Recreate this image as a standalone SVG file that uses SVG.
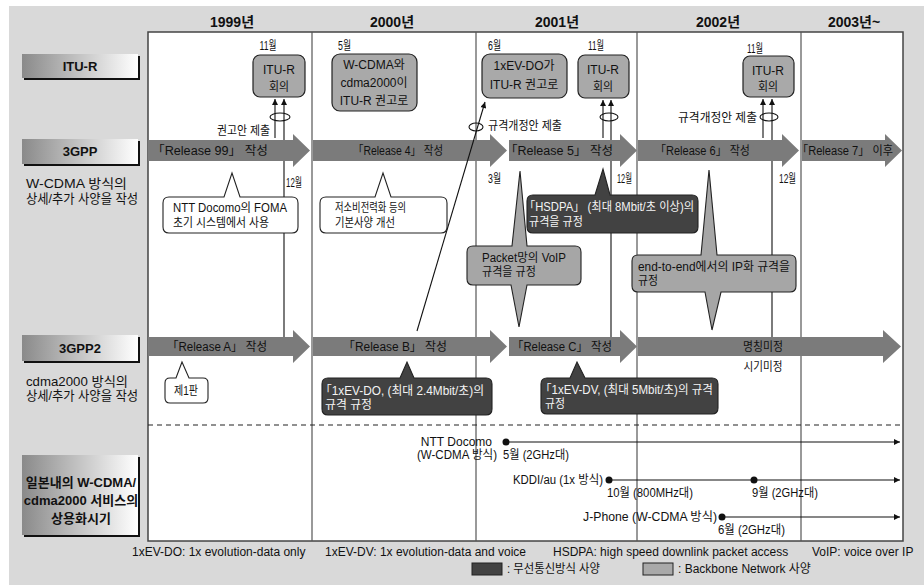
<svg xmlns="http://www.w3.org/2000/svg" width="924" height="585" viewBox="0 0 924 585">
<style>
text{font-family:"Liberation Sans","Noto Sans CJK KR",sans-serif;font-size:12px;fill:#111}
.yr{font-size:14px;font-weight:bold}
.lb{font-size:13px;font-weight:bold}
.rw{font-size:13px}
.w{fill:#f4f4f4}
.m{text-anchor:middle}
.e{text-anchor:end}
.arr{fill:#7b7b7b}
.box{fill:#a9a9a9;stroke:#222;stroke-width:1.2}
.cw{fill:#fff;stroke:#222;stroke-width:1.1}
.cd{fill:#424242;stroke:#222;stroke-width:1.1}
.cg{fill:#a6a6a6;stroke:#222;stroke-width:1.1}
.ln{stroke:#111;stroke-width:1.1;fill:none}
.yl{stroke:#555;stroke-width:1.2}
.sh{fill:#111}
.lbx{fill:url(#g)}
</style>
<defs>
<linearGradient id="g" x1="0" y1="0" x2="1" y2="0">
<stop offset="0" stop-color="#8a8a8a"/>
<stop offset="1" stop-color="#ffffff"/>
</linearGradient>
<marker id="ah" viewBox="0 0 10 10" refX="10" refY="5" markerWidth="8" markerHeight="6" markerUnits="userSpaceOnUse" orient="auto">
<path d="M0,0 L10,5 L0,10 z" fill="#111"/>
</marker>
</defs>
<rect x="9" y="6" width="915" height="579" fill="#d9d9d9"/>
<rect x="148" y="32" width="755" height="509" fill="#fff" stroke="#444" stroke-width="1.5"/>
<g id="grid">
<line class="yl" x1="312" y1="32" x2="312" y2="541"/>
<line class="yl" x1="476" y1="32" x2="476" y2="541"/>
<line class="yl" x1="637" y1="32" x2="637" y2="541"/>
<line class="yl" x1="801" y1="32" x2="801" y2="541"/>
<line x1="148" y1="425" x2="903" y2="425" stroke="#222" stroke-width="1.1" stroke-dasharray="5 4"/>
</g>
<g id="years">
<text class="yr m" x="232" y="27">1999년</text>
<text class="yr m" x="392" y="27">2000년</text>
<text class="yr m" x="557" y="27">2001년</text>
<text class="yr m" x="718" y="27">2002년</text>
<text class="yr m" x="854" y="27">2003년~</text>
</g>
<g id="row-itur">
<rect class="sh" x="24" y="56" width="116" height="24"/>
<rect class="lbx" x="22" y="54" width="116" height="24"/>
<text class="lb m" x="80" y="71">ITU-R</text>
</g>
<g id="row-3gpp">
<rect class="sh" x="24" y="141" width="116" height="25"/>
<rect class="lbx" x="22" y="139" width="116" height="25"/>
<text class="lb m" x="80" y="156">3GPP</text>
<text class="rw" x="26" y="188" textLength="101" lengthAdjust="spacingAndGlyphs">W-CDMA 방식의</text>
<text class="rw" x="26" y="203" textLength="112" lengthAdjust="spacingAndGlyphs">상세/추가 사양을 작성</text>
</g>
<g id="row-3gpp2">
<rect class="sh" x="24" y="337" width="116" height="26"/>
<rect class="lbx" x="22" y="335" width="116" height="26"/>
<text class="lb m" x="80" y="353">3GPP2</text>
<text class="rw" x="26" y="386" textLength="102" lengthAdjust="spacingAndGlyphs">cdma2000 방식의</text>
<text class="rw" x="26" y="400" textLength="112" lengthAdjust="spacingAndGlyphs">상세/추가 사양을 작성</text>
</g>
<g id="row-japan">
<rect class="sh" x="24" y="457" width="116" height="80"/>
<rect class="lbx" x="22" y="455" width="116" height="80"/>
<text class="lb m" x="81" y="487">일본내의 W-CDMA/</text>
<text class="lb m" x="81" y="505">cdma2000 서비스의</text>
<text class="lb m" x="81" y="523">상용화시기</text>
</g>
<g id="gpp-arrows">
<g id="r99"><polygon class="arr" points="148,140 293,140 293,134 310,150.5 293,167 293,161 148,161"/><text x="152" y="155" textLength="116" lengthAdjust="spacingAndGlyphs">「Release 99」 작성</text></g>
<g id="r4"><polygon class="arr" points="313,140 490,140 490,134 507,150.5 490,167 490,161 313,161"/><text x="353" y="155" textLength="90" lengthAdjust="spacingAndGlyphs">「Release 4」 작성</text></g>
<g id="r5"><polygon class="arr" points="509,140 620,140 620,134 637,150.5 620,167 620,161 509,161"/><text x="505" y="155" textLength="108" lengthAdjust="spacingAndGlyphs">「Release 5」 작성</text></g>
<g id="r6"><polygon class="arr" points="638,140 782,140 782,134 799,150.5 782,167 782,161 638,161"/><text x="655" y="155" textLength="95" lengthAdjust="spacingAndGlyphs">「Release 6」 작성</text></g>
<g id="r7"><polygon class="arr" points="802,140 885,140 885,134 902,150.5 885,167 885,161 802,161"/><text x="797" y="155" textLength="96" lengthAdjust="spacingAndGlyphs">「Release 7」 이후</text></g>
</g>
<g id="gpp2-arrows">
<g id="ra"><polygon class="arr" points="148,337 293,337 293,330 310,346.5 293,363 293,356 148,356"/><text x="167" y="351" textLength="100" lengthAdjust="spacingAndGlyphs">「Release A」 작성</text></g>
<g id="rb"><polygon class="arr" points="313,337 490,337 490,330 507,346.5 490,363 490,356 313,356"/><text x="343" y="351" textLength="104" lengthAdjust="spacingAndGlyphs">「Release B」 작성</text></g>
<g id="rc"><polygon class="arr" points="509,337 620,337 620,330 637,346.5 620,363 620,356 509,356"/><text x="512" y="351" textLength="100" lengthAdjust="spacingAndGlyphs">「Release C」 작성</text></g>
<g id="rtbd"><polygon class="arr" points="638,337 883,337 883,330 901,346.5 883,363 883,356 638,356"/><text class="m" x="763" y="351" textLength="40" lengthAdjust="spacingAndGlyphs">명칭미정</text></g>
<text class="m" x="763" y="371" textLength="39" lengthAdjust="spacingAndGlyphs">시기미정</text>
</g>
<g id="itu-1999">
<text class="m" x="268" y="50" textLength="17" lengthAdjust="spacingAndGlyphs">11월</text>
<rect class="box" x="253" y="55" width="52" height="42" rx="7"/>
<text class="m" x="279" y="74">ITU-R</text>
<text class="m" x="279" y="91" textLength="20" lengthAdjust="spacingAndGlyphs">회의</text>
</g>
<g id="itu-2000">
<text x="338" y="50" textLength="13" lengthAdjust="spacingAndGlyphs">5월</text>
<rect class="box" x="332" y="54" width="85" height="57" rx="8"/>
<text class="m" x="374" y="69">W-CDMA와</text>
<text class="m" x="374" y="87">cdma2000이</text>
<text class="m" x="374" y="105">ITU-R 권고로</text>
</g>
<g id="itu-2001a">
<text x="488" y="50" textLength="13" lengthAdjust="spacingAndGlyphs">6월</text>
<rect class="box" x="482" y="54" width="85" height="44" rx="8"/>
<text class="m" x="524" y="70">1xEV-DO가</text>
<text class="m" x="524" y="89">ITU-R 권고로</text>
</g>
<g id="itu-2001b">
<text x="588" y="50" textLength="16" lengthAdjust="spacingAndGlyphs">11월</text>
<rect class="box" x="578" y="55" width="51" height="43" rx="7"/>
<text class="m" x="603" y="74">ITU-R</text>
<text class="m" x="603" y="91" textLength="20" lengthAdjust="spacingAndGlyphs">회의</text>
</g>
<g id="itu-2002">
<text x="747" y="53" textLength="16" lengthAdjust="spacingAndGlyphs">11월</text>
<rect class="box" x="743" y="56" width="51" height="41" rx="7"/>
<text class="m" x="768" y="75">ITU-R</text>
<text class="m" x="768" y="91" textLength="20" lengthAdjust="spacingAndGlyphs">회의</text>
</g>
<g id="connectors">
<ellipse class="ln" cx="280" cy="117" rx="10" ry="4"/>
<ellipse class="ln" cx="609" cy="117" rx="9" ry="4"/>
<ellipse class="ln" cx="769" cy="117" rx="9" ry="4"/>
<ellipse class="ln" cx="476" cy="127" rx="7" ry="4"/>
<path class="ln" d="M275,138 L275,99" marker-end="url(#ah)"/>
<path class="ln" d="M284,337 L284,161 M284,140 L284,99" marker-end="url(#ah)"/>
<path class="ln" d="M603,138 L603,100" marker-end="url(#ah)"/>
<path class="ln" d="M611,337 L611,161 M611,140 L611,100" marker-end="url(#ah)"/>
<path class="ln" d="M763,138 L763,99" marker-end="url(#ah)"/>
<path class="ln" d="M772,337 L772,161 M772,140 L772,99" marker-end="url(#ah)"/>
<path class="ln" d="M417,331 L485,102" marker-end="url(#ah)"/>
<path class="ln" d="M506,442 L900,442" marker-end="url(#ah)"/>
<path class="ln" d="M609,480 L900,480" marker-end="url(#ah)"/>
<path class="ln" d="M722,517 L900,517" marker-end="url(#ah)"/>
<circle cx="506" cy="442" r="3.5" fill="#111"/>
<circle cx="609" cy="480" r="3.5" fill="#111"/>
<circle cx="754" cy="480" r="3.5" fill="#111"/>
<circle cx="722" cy="517" r="3.5" fill="#111"/>
</g>
<g id="conn-labels">
<text class="e" x="270" y="135" textLength="53" lengthAdjust="spacingAndGlyphs">권고안 제출</text>
<text x="488" y="130" textLength="74" lengthAdjust="spacingAndGlyphs">규격개정안 제출</text>
<text x="678" y="122" textLength="79" lengthAdjust="spacingAndGlyphs">규격개정안 제출</text>
<text x="286" y="187" textLength="16" lengthAdjust="spacingAndGlyphs">12월</text>
<text x="488" y="183" textLength="13" lengthAdjust="spacingAndGlyphs">3월</text>
<text x="617" y="183" textLength="15" lengthAdjust="spacingAndGlyphs">12월</text>
<text x="779" y="183" textLength="17" lengthAdjust="spacingAndGlyphs">12월</text>
</g>
<g id="callout-foma">
<path class="cw" d="M169,197 L224,197 L232,173 L240,197 L292,197 Q298,197 298,203 L298,227 Q298,233 292,233 L169,233 Q163,233 163,227 L163,203 Q163,197 169,197 Z"/>
<text x="173" y="212" textLength="114" lengthAdjust="spacingAndGlyphs">NTT Docomo의 FOMA</text>
<text x="173" y="227" textLength="96" lengthAdjust="spacingAndGlyphs">초기 시스템에서 사용</text>
</g>
<g id="callout-r4">
<path class="cw" d="M326,197 L375,197 L383,173 L391,197 L441,197 Q447,197 447,203 L447,227 Q447,233 441,233 L326,233 Q320,233 320,227 L320,203 Q320,197 326,197 Z"/>
<text x="335" y="212" textLength="71" lengthAdjust="spacingAndGlyphs">저소비전력화 등의</text>
<text x="335" y="227" textLength="60" lengthAdjust="spacingAndGlyphs">기본사양 개선</text>
</g>
<g id="callout-first">
<path class="cw" d="M170,378 L176,378 L182,362 L189,378 L203,378 Q208,378 208,383 L208,398 Q208,403 203,403 L170,403 Q165,403 165,398 L165,383 Q165,378 170,378 Z"/>
<text class="m" x="186" y="395" textLength="24" lengthAdjust="spacingAndGlyphs">제1판</text>
</g>
<g id="callout-hsdpa">
<path class="cd" d="M533,195 L595,195 L603,169 L610,195 L692,195 Q698,195 698,201 L698,227 Q698,233 692,233 L533,233 Q527,233 527,227 L527,201 Q527,195 533,195 Z"/>
<text class="w" x="524" y="211" textLength="170" lengthAdjust="spacingAndGlyphs">「HSDPA」 (최대 8Mbit/초 이상)의</text>
<text class="w" x="529" y="226" textLength="54" lengthAdjust="spacingAndGlyphs">규격을 규정</text>
</g>
<g id="callout-voip">
<path class="cg" d="M473,246 L512,246 L520,171 L527,246 L575,246 Q581,246 581,252 L581,279 Q581,285 575,285 L527,285 L519,327 L511,285 L473,285 Q467,285 467,279 L467,252 Q467,246 473,246 Z"/>
<text x="482" y="262" textLength="84" lengthAdjust="spacingAndGlyphs">Packet망의 VoIP</text>
<text x="482" y="276" textLength="54" lengthAdjust="spacingAndGlyphs">규격을 규정</text>
</g>
<g id="callout-e2e">
<path class="cg" d="M638,255 L701,255 L709,170 L717,255 L790,255 Q796,255 796,261 L796,286 Q796,292 790,292 L721,292 L712,330 L705,292 L638,292 Q632,292 632,286 L632,261 Q632,255 638,255 Z"/>
<text x="638" y="271" textLength="152" lengthAdjust="spacingAndGlyphs">end-to-end에서의 IP화 규격을</text>
<text x="638" y="285" textLength="20" lengthAdjust="spacingAndGlyphs">규정</text>
</g>
<g id="callout-evdo">
<path class="cd" d="M328,378 L400,378 L407,362 L414,378 L486,378 Q492,378 492,384 L492,409 Q492,415 486,415 L328,415 Q322,415 322,409 L322,384 Q322,378 328,378 Z"/>
<text class="w" x="320" y="395" textLength="164" lengthAdjust="spacingAndGlyphs">「1xEV-DO, (최대 2.4Mbit/초)의</text>
<text class="w" x="325" y="409" textLength="47" lengthAdjust="spacingAndGlyphs">규격 규정</text>
</g>
<g id="callout-evdv">
<path class="cd" d="M547,378 L570,378 L577,362 L585,378 L712,378 Q718,378 718,384 L718,408 Q718,414 712,414 L547,414 Q541,414 541,408 L541,384 Q541,378 547,378 Z"/>
<text class="w" x="540" y="394" textLength="173" lengthAdjust="spacingAndGlyphs">「1xEV-DV, (최대 5Mbit/초)의 규격</text>
<text class="w" x="545" y="408" textLength="20" lengthAdjust="spacingAndGlyphs">규정</text>
</g>
<g id="launch-labels">
<text class="e" x="492" y="446">NTT Docomo</text>
<text class="e" x="497" y="459" textLength="80" lengthAdjust="spacingAndGlyphs">(W-CDMA 방식)</text>
<text x="503" y="459" textLength="66" lengthAdjust="spacingAndGlyphs">5월 (2GHz대)</text>
<text class="e" x="603" y="484" textLength="90" lengthAdjust="spacingAndGlyphs">KDDI/au (1x 방식)</text>
<text x="607" y="497" textLength="86" lengthAdjust="spacingAndGlyphs">10월 (800MHz대)</text>
<text x="752" y="497" textLength="66" lengthAdjust="spacingAndGlyphs">9월 (2GHz대)</text>
<text class="e" x="717" y="521" textLength="134" lengthAdjust="spacingAndGlyphs">J-Phone (W-CDMA 방식)</text>
<text x="718" y="534" textLength="67" lengthAdjust="spacingAndGlyphs">6월 (2GHz대)</text>
</g>
<g id="footer">
<text x="132" y="556">1xEV-DO: 1x evolution-data only</text>
<text x="325" y="556">1xEV-DV: 1x evolution-data and voice</text>
<text x="553" y="556">HSDPA: high speed downlink packet access</text>
<text x="812" y="556">VoIP: voice over IP</text>
</g>
<g id="legend">
<rect x="472" y="563" width="30" height="12" fill="#424242" stroke="#222"/>
<text x="507" y="573" textLength="93" lengthAdjust="spacingAndGlyphs">: 무선통신방식 사양</text>
<rect x="643" y="563" width="30" height="12" fill="#a9a9a9" stroke="#222"/>
<text x="678" y="573">: Backbone Network 사양</text>
</g>
</svg>
